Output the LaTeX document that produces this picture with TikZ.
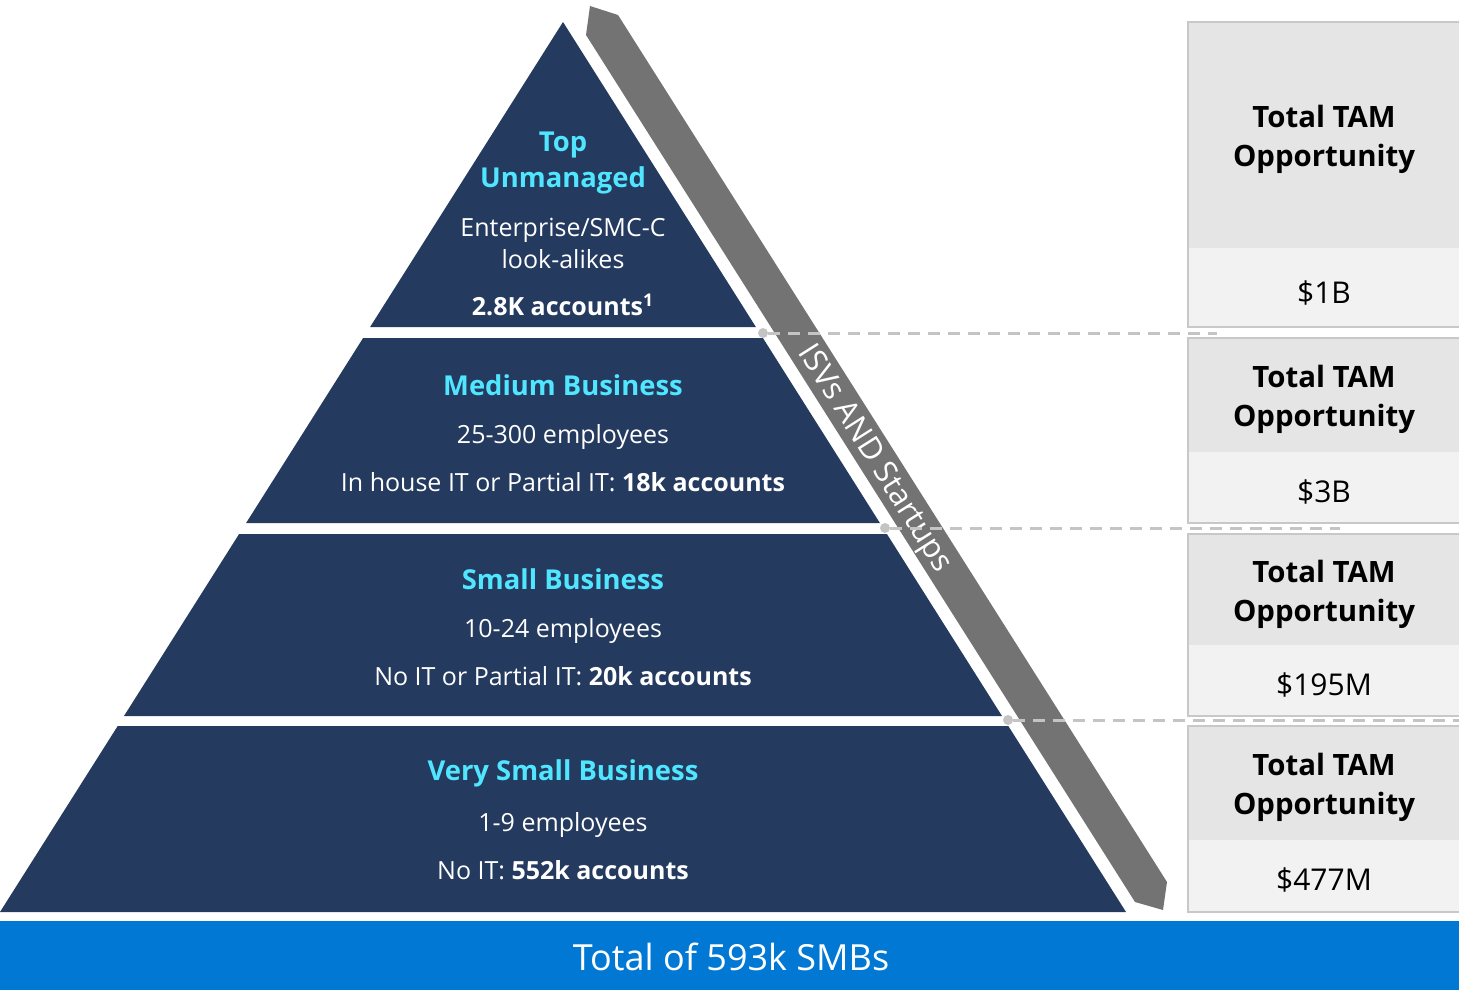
\documentclass[tikz,border=0pt]{standalone}
\usepackage{fontspec}
\setmainfont{Open Sans}
\definecolor{navy}{HTML}{243A5E}
\definecolor{headcyan}{HTML}{50E6FF}
\definecolor{msblue}{HTML}{0078D4}
\definecolor{bandgray}{HTML}{737373}
\definecolor{boxtop}{HTML}{E5E5E5}
\definecolor{boxlow}{HTML}{F2F2F2}
\definecolor{boxline}{HTML}{C8C8C8}
\definecolor{dashgray}{HTML}{C4C4C4}
\tikzset{
  tier/.style={fill=navy},
  tierhead/.style={text=headcyan, font=\bfseries\fontsize{13.7}{18}\selectfont, align=center},
  tierbody/.style={text=white, font=\fontsize{12.5}{16}\selectfont, align=center},
  tamtitle/.style={text=black, font=\bfseries\fontsize{14.7}{19.5}\selectfont, align=center},
  tamvalue/.style={text=black, font=\fontsize{15}{19}\selectfont},
  levelline/.style={dashgray, line width=1.5pt, dash pattern=on 6pt off 4pt},
  leveldot/.style={circle, fill=dashgray, inner sep=0pt, minimum size=5pt},
}
\begin{document}
\begin{tikzpicture}[x=0.5pt, y=-0.5pt]
                    \useasboundingbox (0,0) rectangle (1459,990);
                    \clip (0,0) rectangle (1459,990);

                    % Drawing band ISVs AND Startups
                    \fill [bandgray] (586,35) -- (1135,902) -- (1163,910) -- (1167,882) -- (618,15) -- (590,6) -- cycle;%
                    \node [text=white, font=\fontsize{15.5}{17}\selectfont, rotate=-57.66] (isv) at (874,459) {ISVs AND Startups};%

                    % Drawing tier Top Unmanaged
                    \fill [tier] (563,22) -- (755.9,327) -- (370.1,327) -- cycle;%
                    \node [tierhead] (t1head) at (563,163) {Top\\Unmanaged};%
                    \node [tierbody] (t1desc) at (563,243) {Enterprise/SMC-C\\look-alikes};%
                    \node [tierbody] (t1count) at (563,305) {\textbf{2.8K accounts\textsuperscript{1}}};%

                    % Drawing tier Medium Business
                    \fill [tier] (363.1,338) -- (762.9,338) -- (879.9,523) -- (246.1,523) -- cycle;%
                    \node [tierhead] (t2head) at (563,385) {Medium Business};%
                    \node [tierbody] (t2desc) at (563,437) {25-300 employees};%
                    \node [tierbody] (t2count) at (563,482) {In house IT or Partial IT: \textbf{18k accounts}};%

                    % Drawing tier Small Business
                    \fill [tier] (239.1,534) -- (886.9,534) -- (1002,716) -- (124,716) -- cycle;%
                    \node [tierhead] (t3head) at (563,579) {Small Business};%
                    \node [tierbody] (t3desc) at (563,631) {10-24 employees};%
                    \node [tierbody] (t3count) at (563,676) {No IT or Partial IT: \textbf{20k accounts}};%

                    % Drawing tier Very Small Business
                    \fill [tier] (117.7,726) -- (1008.3,726) -- (1126,912) -- (0,912) -- cycle;%
                    \node [tierhead] (t4head) at (563,773) {Very Small Business};%
                    \node [tierbody] (t4desc) at (563,825) {1-9 employees};%
                    \node [tierbody] (t4count) at (563,870) {No IT: \textbf{552k accounts}};%

                    % Drawing TAM boxes
                    \fill [boxtop] (1188,22) rectangle (1470,248);%
                    \fill [boxlow] (1188,248) rectangle (1470,327);%
                    \draw [boxline, line width=1pt] (1188,22) rectangle (1470,327);%
                    \node [tamtitle] (tam1) at (1324,139) {Total TAM\\Opportunity};%
                    \node [tamvalue] (val1) at (1324,293) {\$1B};%

                    \fill [boxtop] (1188,338) rectangle (1470,452);%
                    \fill [boxlow] (1188,452) rectangle (1470,523);%
                    \draw [boxline, line width=1pt] (1188,338) rectangle (1470,523);%
                    \node [tamtitle] (tam2) at (1324,399) {Total TAM\\Opportunity};%
                    \node [tamvalue] (val2) at (1324,492) {\$3B};%

                    \fill [boxtop] (1188,534) rectangle (1470,645);%
                    \fill [boxlow] (1188,645) rectangle (1470,716);%
                    \draw [boxline, line width=1pt] (1188,534) rectangle (1470,716);%
                    \node [tamtitle] (tam3) at (1324,594) {Total TAM\\Opportunity};%
                    \node [tamvalue] (val3) at (1324,685) {\$195M};%

                    \fill [boxtop] (1188,726) rectangle (1470,840);%
                    \fill [boxlow] (1188,840) rectangle (1470,912);%
                    \draw [boxline, line width=1pt] (1188,726) rectangle (1470,912);%
                    \node [tamtitle] (tam4) at (1324,787) {Total TAM\\Opportunity};%
                    \node [tamvalue] (val4) at (1324,880) {\$477M};%

                    % Marking tier levels by dashed lines
                    \node [leveldot] (lvl1) at (763,333) {};%
                    \node [leveldot] (lvl2) at (885,528) {};%
                    \node [leveldot] (lvl3) at (1008,720) {};%
                    \coordinate (end1) at (1217,333);%
                    \coordinate (end2) at (1340,528);%
                    \coordinate (end3) at (1459,720);%
                    \draw [levelline] (lvl1) -- (end1);%
                    \draw [levelline] (lvl2) -- (end2);%
                    \draw [levelline] (lvl3) -- (end3);%

                    % Drawing total bar
                    \fill [msblue] (0,921) rectangle (1459,990);%
                    \node [text=white, font=\fontsize{18}{22}\selectfont] (total) at (731,957) {Total of 593k SMBs};%
\end{tikzpicture}
\end{document}
